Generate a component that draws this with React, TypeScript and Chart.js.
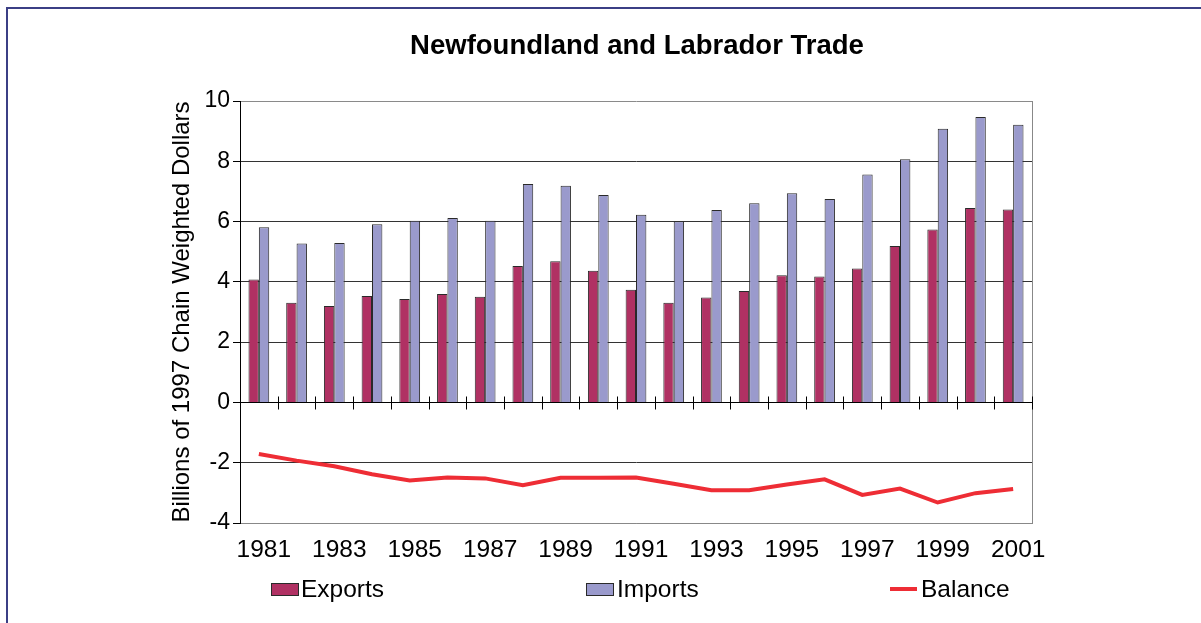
import React, { useEffect, useRef } from "react";
import { Chart, registerables } from "chart.js";

Chart.register(...registerables);

const years = [
  "1981", "1982", "1983", "1984", "1985", "1986", "1987", "1988", "1989", "1990", "1991",
  "1992", "1993", "1994", "1995", "1996", "1997", "1998", "1999", "2000", "2001",
];
const exportsValues = [
  4.08, 3.31, 3.2, 3.53, 3.43, 3.6, 3.51, 4.53, 4.68, 4.37, 3.74,
  3.31, 3.48, 3.7, 4.22, 4.18, 4.44, 5.19, 5.74, 6.45, 6.4,
];
const importsValues = [
  5.81, 5.27, 5.29, 5.91, 6.03, 6.12, 6.03, 7.25, 7.19, 6.88, 6.23,
  6.01, 6.38, 6.61, 6.94, 6.75, 7.56, 8.07, 9.08, 9.47, 9.21,
];
const balanceValues = [
  -1.71, -1.93, -2.12, -2.38, -2.59, -2.49, -2.52, -2.75, -2.5, -2.5, -2.49,
  -2.7, -2.91, -2.91, -2.72, -2.55, -3.07, -2.86, -3.32, -3.01, -2.87,
];
const yTickValues = [-4, -2, 0, 2, 4, 6, 8, 10];

const FONT = "'Liberation Sans', Arial, sans-serif";
const EXPORT_COLOR = "#b03163";
const IMPORT_COLOR = "#9a9acc";
const BALANCE_COLOR = "#ee2d35";

const frameLines = {
  id: "frameLines",
  afterDatasetsDraw(chart: any) {
    const { ctx, chartArea, scales } = chart;
    const x = scales.x;
    const y = scales.y;
    const y0 = Math.round(y.getPixelForValue(0)) + 0.5;
    ctx.save();
    ctx.strokeStyle = "#888";
    ctx.lineWidth = 1;
    ctx.beginPath();
    ctx.moveTo(Math.round(chartArea.right) + 0.5, chartArea.top);
    ctx.lineTo(Math.round(chartArea.right) + 0.5, chartArea.bottom);
    ctx.stroke();
    ctx.strokeStyle = "#000";
    ctx.beginPath();
    ctx.moveTo(chartArea.left - 6, y0);
    ctx.lineTo(chartArea.right, y0);
    const n = years.length;
    const step = n > 1 ? x.getPixelForValue(1) - x.getPixelForValue(0) : 0;
    for (let i = 0; i <= n; i++) {
      const px = Math.round(x.getPixelForValue(i) - step / 2) + 0.5;
      ctx.moveTo(px, y0 - 6);
      ctx.lineTo(px, y0 + 7);
    }
    ctx.stroke();
    ctx.restore();
  },
};

function App() {
  const canvasRef = useRef<HTMLCanvasElement | null>(null);

  useEffect(() => {
    const canvas = canvasRef.current;
    if (!canvas) return;
    const chart = new Chart(canvas, {
      type: "bar",
      data: {
        labels: years,
        datasets: [
          {
            type: "line" as any,
            label: "Balance",
            data: balanceValues,
            borderColor: BALANCE_COLOR,
            backgroundColor: BALANCE_COLOR,
            borderWidth: 4,
            pointRadius: 0,
            tension: 0,
            order: 0,
          } as any,
          {
            label: "Exports",
            data: exportsValues,
            backgroundColor: EXPORT_COLOR,
            borderColor: "#2a2a2a",
            borderWidth: 1,
            categoryPercentage: 0.55,
            barPercentage: 1.0,
            order: 1,
          },
          {
            label: "Imports",
            data: importsValues,
            backgroundColor: IMPORT_COLOR,
            borderColor: "#2a2a2a",
            borderWidth: 1,
            categoryPercentage: 0.55,
            barPercentage: 1.0,
            order: 1,
          },
        ],
      },
      options: {
        responsive: false,
        animation: false,
        devicePixelRatio: 1,
        layout: { padding: { left: 160, right: 169, top: 101, bottom: 55 } },
        plugins: {
          legend: { display: false },
          title: { display: false },
          tooltip: { enabled: false },
        },
        scales: {
          x: {
            offset: true,
            afterFit: (scale: any) => {
              scale.height = 45;
            },
            grid: { display: false, offset: true, drawTicks: false, tickLength: 0 },
            border: { display: true, color: "#888" },
            ticks: {
              autoSkip: false,
              maxRotation: 0,
              minRotation: 0,
              padding: 13,
              labelOffset: 5,
              color: "#000",
              font: { family: FONT, size: 24.5 },
              callback: (_v: any, i: number) => (i % 2 === 0 ? years[i] : ""),
            },
          },
          y: {
            min: -4,
            max: 10,
            afterFit: (scale: any) => {
              scale.width = 80;
            },
            afterBuildTicks: (scale: any) => {
              scale.ticks = yTickValues.map((v) => ({ value: v }));
            },
            grid: {
              color: (c: any) =>
                c.tick && (c.tick.value === 10 || c.tick.value === -4) ? "#8a8a8a" : "#333",
              tickColor: "#000",
              tickLength: 7,
              lineWidth: 1,
            },
            border: { display: true, color: "#000", width: 1 },
            ticks: {
              stepSize: 2,
              padding: 3,
              color: "#000",
              font: { family: FONT, size: 23 },
            },
            title: {
              display: true,
              text: "Billions of 1997 Chain Weighted Dollars",
              color: "#000",
              font: { family: FONT, size: 24 },
              padding: { top: 8, bottom: 0 },
            },
          },
        },
      },
      plugins: [frameLines],
    });
    return () => chart.destroy();
  }, []);

  const legendText: React.CSSProperties = {
    position: "absolute",
    top: 575,
    fontFamily: FONT,
    fontSize: 24.5,
    lineHeight: "28px",
    color: "#000",
    whiteSpace: "nowrap",
  };
  const swatch = (left: number, color: string): React.CSSProperties => ({
    position: "absolute",
    left,
    top: 583,
    width: 26,
    height: 11,
    background: color,
    border: "1px solid #2a2a2a",
  });

  return (
    <div
      style={{
        position: "fixed",
        left: 0,
        top: 0,
        width: 1201,
        height: 623,
        background: "#fff",
        overflow: "hidden",
      }}
    >
      <div
        style={{
          position: "absolute",
          left: 6,
          top: 7,
          width: 1400,
          height: 800,
          borderLeft: "2px solid #3b3f85",
          borderTop: "2px solid #3b3f85",
        }}
      />
      <canvas ref={canvasRef} width={1201} height={623} style={{ position: "absolute", left: 0, top: 0 }} />
      <div
        style={{
          position: "absolute",
          left: 237,
          width: 800,
          top: 29,
          textAlign: "center",
          fontFamily: FONT,
          fontWeight: "bold",
          fontSize: 27.5,
          lineHeight: "32px",
          color: "#000",
          whiteSpace: "nowrap",
        }}
      >
        Newfoundland and Labrador Trade
      </div>
      <div style={swatch(271, EXPORT_COLOR)} />
      <div style={{ ...legendText, left: 301 }}>Exports</div>
      <div style={swatch(586, IMPORT_COLOR)} />
      <div style={{ ...legendText, left: 617 }}>Imports</div>
      <div
        style={{
          position: "absolute",
          left: 890,
          top: 587,
          width: 27,
          height: 4,
          background: BALANCE_COLOR,
        }}
      />
      <div style={{ ...legendText, left: 921 }}>Balance</div>
    </div>
  );
}

export default App;
